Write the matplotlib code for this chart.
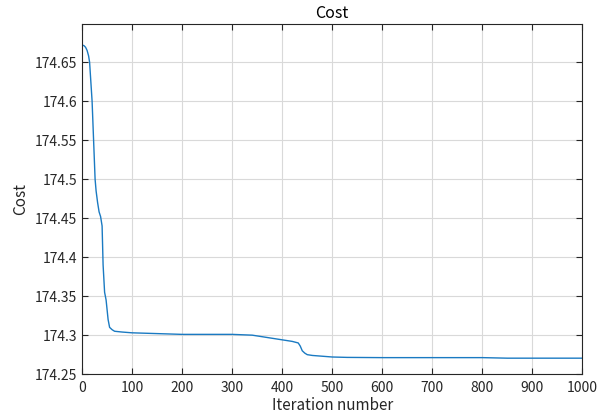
import matplotlib
matplotlib.use('Agg')
import matplotlib.pyplot as plt

# cost per iteration (sampled where the curve changes shape)
iterations = [0, 4, 7, 10, 13, 15, 18, 20, 23, 26, 28, 31, 34, 37, 40, 42, 45, 48, 52, 55, 60,
              65, 80, 100, 150, 200, 250, 300, 340, 370, 400, 420, 432, 436, 440, 445,
              450, 460, 480, 500, 530, 600, 700, 800, 850, 900, 1000]
cost = [174.672, 174.671, 174.669, 174.665, 174.658, 174.65, 174.62, 174.60, 174.55, 174.50,
        174.485, 174.47, 174.458, 174.452, 174.44, 174.39, 174.355, 174.345, 174.32, 174.31,
        174.307, 174.305, 174.304, 174.303, 174.302, 174.301, 174.301, 174.301, 174.300,
        174.297, 174.294, 174.292, 174.290, 174.286, 174.280, 174.277, 174.275, 174.274,
        174.273, 174.272, 174.2715, 174.2712, 174.2712, 174.2712, 174.2705, 174.2705, 174.2705]

xticks = list(range(0, 1001, 100))
yticks = [174.25, 174.3, 174.35, 174.4, 174.45, 174.5, 174.55, 174.6, 174.65]
ytick_labels = ['174.25', '174.3', '174.35', '174.4', '174.45', '174.5', '174.55', '174.6', '174.65']

plt.rcParams['font.family'] = ['Noto Sans CJK JP', 'DejaVu Sans']
axcol = (0.15, 0.15, 0.15)

fig = plt.figure(figsize=(6.08, 4.19), dpi=100)
ax = fig.add_axes([0.135, 0.107, 0.823, 0.836])

ax.plot(iterations, cost, color=(0.1, 0.48, 0.76), lw=1.0)

ax.set_xlim(0, 1000)
ax.set_ylim(174.25, 174.699)
ax.set_xticks(xticks)
ax.set_yticks(yticks)
ax.set_yticklabels(ytick_labels)
ax.grid(True, color=(0.85, 0.85, 0.85), lw=0.8)
ax.set_axisbelow(True)
ax.tick_params(direction='in', top=True, right=True, length=4, width=0.8,
               colors=axcol, labelsize=10, labelcolor=axcol)
ax.tick_params(axis='x', pad=5)
for s in ax.spines.values():
    s.set_color(axcol)
    s.set_linewidth(0.8)

ax.set_xlabel('Iteration number', fontsize=11, color=axcol, labelpad=1)
ax.set_ylabel('Cost', fontsize=11, color=axcol, labelpad=4)
ax.set_title('Cost', fontsize=11.5, color='black', pad=4)

fig.savefig('out.png', dpi=100)
